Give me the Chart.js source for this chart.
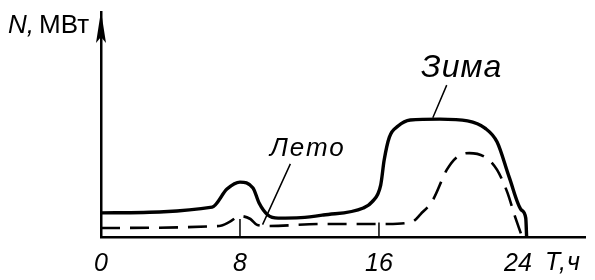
<!DOCTYPE html>
<html>
<head>
<meta charset="utf-8">
<script src="https://cdn.jsdelivr.net/npm/chart.js@4"></script>
<style>
  html, body { margin: 0; padding: 0; background: #fff; }
  #wrap { width: 595px; height: 280px; }
</style>
</head>
<body>
<div id="wrap"><canvas id="chart"></canvas></div>
<script>
// hours of the day and load in relative units (0..100 = full height of the axis)
const winterHours = [0, 6.4, 7.25, 8, 8.75, 9.1, 9.6, 10.2, 11.5, 12.8, 15.1, 15.6, 16.1, 16.3, 16.6, 17.1, 17.8, 19.5, 21.1, 22.1, 22.8, 23.5, 24.2, 24.45, 24.5];
const winterLoad  = [10.7, 13.3, 21.3, 24.4, 21.8, 15.1, 9.8, 8.4, 8.6, 9.8, 12.9, 15.6, 23.1, 34.2, 44.4, 49.3, 52, 52.4, 51.6, 48.4, 42.2, 26.5, 12, 8.4, 0];
const summerHours = [0, 6.8, 7.4, 8, 8.6, 9.0, 9.6, 12.8, 16.5, 17.9, 18.4, 19.1, 19.9, 20.5, 21.2, 22.2, 22.8, 23.4, 23.8, 24.2];
const summerLoad  = [4, 4.9, 6.7, 9.3, 8, 5.3, 4.9, 5.8, 5.8, 6.7, 10.2, 16.4, 29.8, 35.6, 37.3, 35.1, 29.8, 19.6, 9.8, 0.9];
const tickHours = [0, 8, 16, 24];
const markHours = [8, 16];
const markHeights = [8, 6.5];

const xMax = 27.86;
const yMax = 100;

const pts = (xs, ys) => xs.map((x, i) => ({ x, y: ys[i] }));

const family = '"Liberation Sans", Arial, sans-serif';

const annotations = {
  id: 'annotations',
  afterDraw(chart) {
    const { ctx, chartArea, scales } = chart;
    const x = scales.x, y = scales.y;
    ctx.save();
    ctx.fillStyle = '#000';
    ctx.strokeStyle = '#000';

    // arrow head on the vertical axis
    const ax = chartArea.left;
    ctx.beginPath();
    ctx.moveTo(ax, chartArea.top - 1);
    ctx.lineTo(ax - 5, chartArea.top + 31);
    ctx.lineTo(ax, chartArea.top + 25);
    ctx.lineTo(ax + 5, chartArea.top + 31);
    ctx.closePath();
    ctx.fill();

    // axis titles
    ctx.textBaseline = 'alphabetic';
    ctx.font = 'italic 26px ' + family;
    ctx.fillText('N,', 8, 33);
    ctx.font = '26px ' + family;
    ctx.fillText('MВт', 39, 33);
    ctx.font = 'italic 25px ' + family;
    ctx.letterSpacing = '1px';
    ctx.fillText('T,ч', 545, 270);

    // series labels with leaders
    ctx.font = 'italic 32px ' + family;
    ctx.fillText('Зима', 421, 77);
    ctx.font = 'italic 26px ' + family;
    ctx.letterSpacing = '2px';
    ctx.fillText('Лето', 270, 156);
    ctx.letterSpacing = '0px';

    ctx.lineWidth = 1.5;
    ctx.beginPath();
    ctx.moveTo(x.getPixelForValue(19.9), y.getPixelForValue(67.5));
    ctx.lineTo(x.getPixelForValue(19.1), y.getPixelForValue(53));
    ctx.moveTo(x.getPixelForValue(10.9), y.getPixelForValue(32.5));
    ctx.lineTo(x.getPixelForValue(9.3), y.getPixelForValue(5.5));
    ctx.stroke();
    ctx.restore();
  }
};

new Chart(document.getElementById('chart'), {
  type: 'line',
  data: {
    datasets: [
      {
        label: 'Зима',
        data: pts(winterHours, winterLoad),
        borderColor: '#000',
        borderWidth: 3.4,
        cubicInterpolationMode: 'monotone',
        pointRadius: 0
      },
      {
        label: 'Лето',
        data: pts(summerHours, summerLoad),
        borderColor: '#000',
        borderWidth: 2.6,
        borderDash: [19, 10],
        cubicInterpolationMode: 'monotone',
        pointRadius: 0
      },
      ...markHours.map((h, i) => ({
        label: 'mark' + h,
        data: [{ x: h, y: 0 }, { x: h, y: markHeights[i] }],
        borderColor: '#000',
        borderWidth: 1.5,
        pointRadius: 0
      }))
    ]
  },
  options: {
    responsive: true,
    maintainAspectRatio: false,
    animation: false,
    layout: { padding: { left: 101, top: 12, right: 10, bottom: 0 } },
    plugins: { legend: { display: false }, tooltip: { enabled: false } },
    scales: {
      x: {
        type: 'linear',
        min: 0,
        max: xMax,
        afterBuildTicks: s => { s.ticks = tickHours.map(v => ({ value: v })); },
        afterFit: s => { s.height = 43; },
        grid: { display: false, drawTicks: false },
        border: { display: true, color: '#000', width: 2.5 },
        ticks: {
          color: '#000',
          padding: 12,
          maxRotation: 0,
          autoSkip: false,
          font: { family: family, size: 25, style: 'italic' }
        }
      },
      y: {
        type: 'linear',
        min: 0,
        max: yMax,
        afterFit: s => { s.width = 0; },
        grid: { display: false, drawTicks: false },
        border: { display: true, color: '#000', width: 2.5 },
        ticks: { display: false }
      }
    }
  },
  plugins: [annotations]
});
</script>
</body>
</html>
